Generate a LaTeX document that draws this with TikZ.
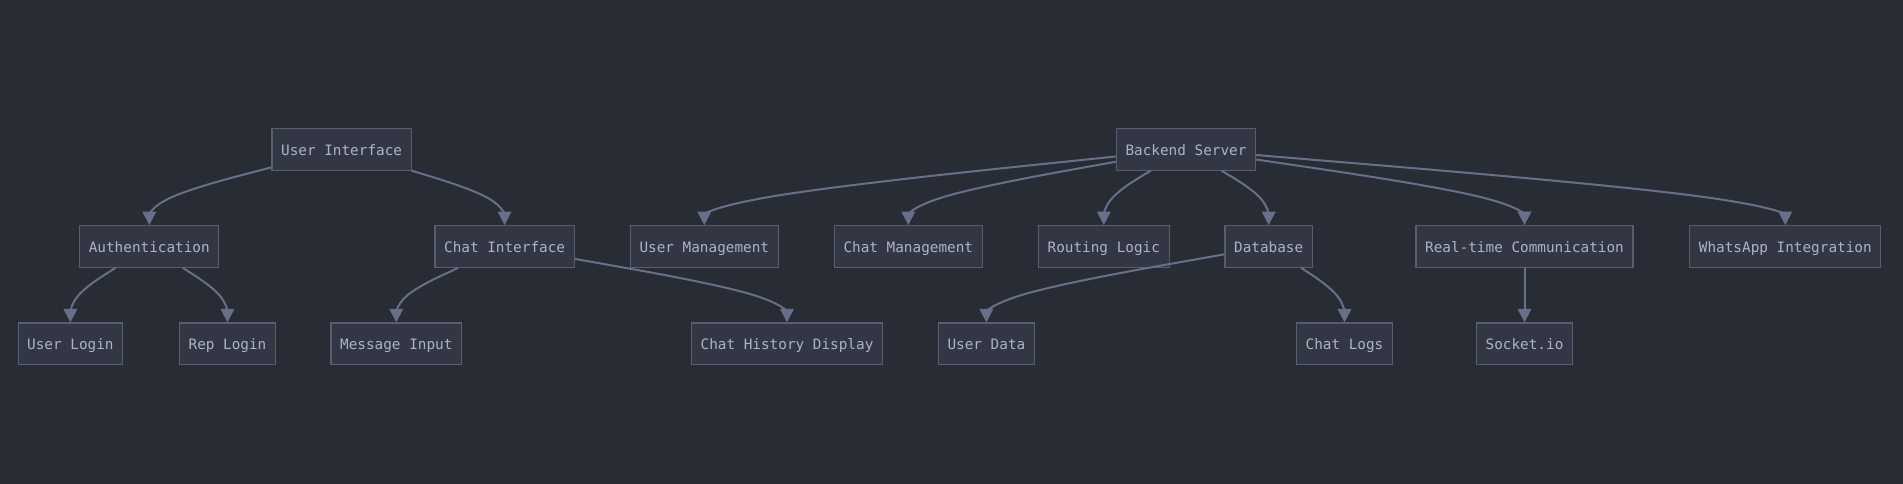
\documentclass[tikz,border=0pt]{standalone}
\usepackage{fontspec}
\setmonofont{DejaVu Sans Mono}
\usetikzlibrary{arrows.meta,calc}
\definecolor{bgc}{HTML}{282C34}
\definecolor{boxc}{HTML}{333743}
\definecolor{bordc}{HTML}{575E70}
\definecolor{edgec}{HTML}{677088}
\definecolor{txtc}{HTML}{ABB4C6}
\newcommand\medge[2]{%
  \path (#2.north) ++(0,-26) coordinate (#1#2m);
  \path (#1) -- (#1#2m) coordinate[pos=0] (#1#2s);
  \draw[edge] (#1#2s) -- ($(#1#2s)!0.16667!(#1#2m)$)
    .. controls ($(#1#2s)!0.33333!(#1#2m)$) and ($(#1#2s)!0.66667!(#1#2m)$)
    .. ($0.16667*(#1#2s)+0.66667*(#1#2m)+0.16667*(#2.north)$)
    .. controls ($(#1#2m)!0.33333!(#2.north)$) and ($(#1#2m)!0.66667!(#2.north)$)
    .. (#2.north);
}
\begin{document}
\begin{tikzpicture}[x=1pt,y=-1pt,
  box/.style={draw=bordc, fill=boxc, line width=1.1pt, text=txtc,
    font=\ttfamily\fontsize{14.35pt}{17pt}\selectfont,
    inner xsep=9.15pt, inner ysep=0pt, minimum height=41.7pt,
    text height=12pt, text depth=0.4pt, anchor=center},
  edge/.style={draw=edgec, line width=2pt, -{Triangle[length=13.5pt,width=13.5pt]}}]
\fill[bgc] (0,0) rectangle (1903,484);
\useasboundingbox (0,0) rectangle (1903,484);
% row 1
\node[box] (ui) at (341.6,149.2) {User Interface};
\node[box] (be) at (1186,149.2) {Backend Server};
% row 2
\node[box] (auth) at (149.3,246.5) {Authentication};
\node[box] (ci) at (504.6,246.5) {Chat Interface};
\node[box] (um) at (704.3,246.5) {User Management};
\node[box] (cm) at (908.3,246.5) {Chat Management};
\node[box] (rl) at (1103.8,246.5) {Routing Logic};
\node[box] (db) at (1268.7,246.5) {Database};
\node[box] (rt) at (1524.5,246.5) {Real-time Communication};
\node[box] (wa) at (1785.3,246.5) {WhatsApp Integration};
% row 3
\node[box] (ul) at (70.4,343.8) {User Login};
\node[box] (rp) at (227.5,343.8) {Rep Login};
\node[box] (mi) at (396.3,343.8) {Message Input};
\node[box] (ch) at (787,343.8) {Chat History Display};
\node[box] (ud) at (986.4,343.8) {User Data};
\node[box] (cl) at (1344.5,343.8) {Chat Logs};
\node[box] (so) at (1524.5,343.8) {Socket.io};
% edges
\medge{ui}{auth}
\medge{ui}{ci}
\medge{auth}{ul}
\medge{auth}{rp}
\medge{ci}{mi}
\medge{ci}{ch}
\medge{be}{um}
\medge{be}{cm}
\medge{be}{rl}
\medge{be}{db}
\medge{be}{rt}
\medge{be}{wa}
\medge{db}{ud}
\medge{db}{cl}
\draw[edge] (rt) -- (so);
\end{tikzpicture}
\end{document}
